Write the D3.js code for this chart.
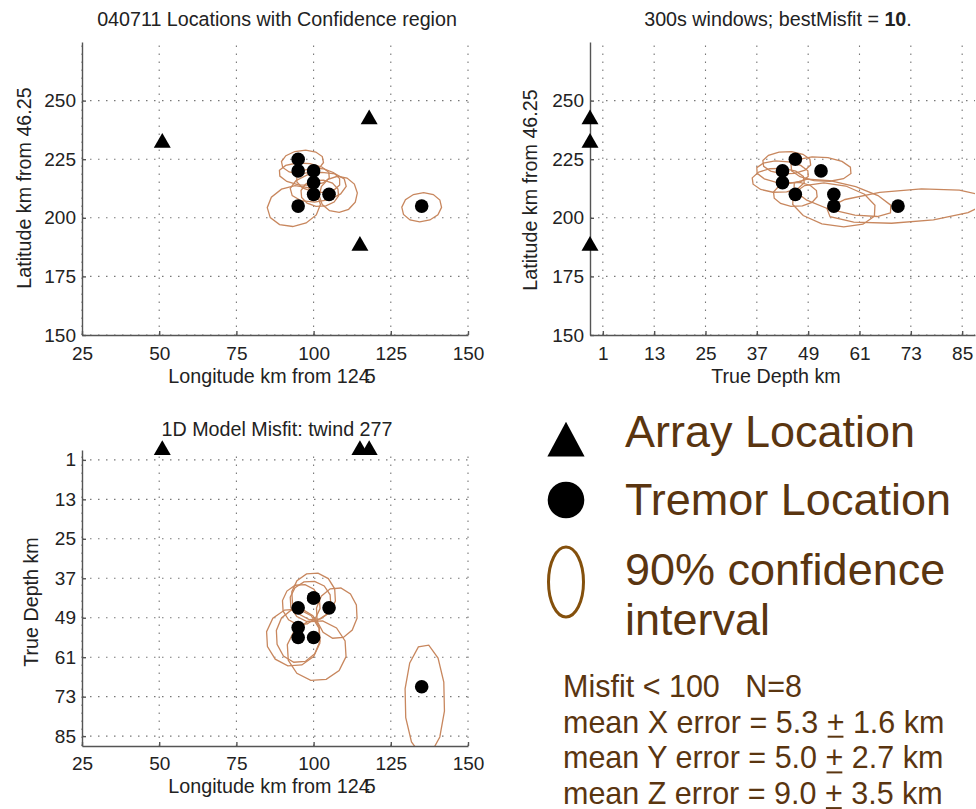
<!DOCTYPE html>
<html>
<head>
<meta charset="utf-8">
<script src="https://cdn.jsdelivr.net/npm/d3@7"></script>
<style>
body { margin: 0; background: #fff; }
svg text { font-family: "Liberation Sans", Arial, sans-serif; }
.axis path, .axis line { stroke: #555; stroke-width: 1.4; }
.axis text { font-size: 19px; fill: #222; }
.grid line { stroke: #777; stroke-width: 1.1; stroke-dasharray: 1.5,6.5; }
.conf { fill: none; stroke: #c8875e; stroke-width: 1.3; }
.lbl { font-size: 19.7px; fill: #222; }
.legend text { fill: #5a3510; }
</style>
</head>
<body>
<svg id="chart" width="976" height="809"></svg>
<script>
// tick labels
var lonTicks = [25, 50, 75, 100, 125, 150];
var latTicks = [150, 175, 200, 225, 250];
var depthTicks = [1, 13, 25, 37, 49, 61, 73, 85];

// array (station) locations
var arrayLon = [51, 118, 115];
var arrayLat = [232, 242, 188];
var arrayDepth = [-2, -2, -2];

// tremor locations (8 events)
var tremorLon = [95, 95, 100, 100, 100, 105, 95, 135];
var tremorLat = [225, 220, 220, 215, 210, 210, 205, 205];
var tremorDepth = [46, 52, 43, 43, 55, 46, 55, 70];

// 90% confidence regions: [centre x, centre y, radius x, radius y, tilt deg]
var confMap = [
    [96.4, 223.8, 6.9, 5, -5],
    [97, 218.6, 8.3, 4.8, 4],
    [101.5, 216, 7.2, 5.2, 6],
    [101.5, 213, 9.2, 6.2, -8],
    [102, 210.5, 6.2, 5.7, 0],
    [108, 210, 6.2, 7.7, -15],
    [93.6, 205, 8.7, 8.6, -12],
    [135, 204.5, 6.5, 6.2, -8]
];
var confDepth = [
    [44, 223.5, 5.7, 4.8, 0],
    [52, 220.8, 7.2, 5.2, 4],
    [43, 219.5, 6.2, 4.7, 5],
    [42, 216, 6.2, 5.2, 0],
    [57, 208.5, 12, 6.2, 14],
    [46, 210, 5.2, 5.2, 0],
    [55, 205.5, 10, 9, 10],
    [72, 205, 19, 7, -4]
];
var confSide = [
    [96, 45, 6.2, 6.2, 0],
    [95, 54.5, 7.2, 8.2, 0],
    [100, 42.5, 7.2, 7.2, 0],
    [99, 44, 6.7, 6.2, 0],
    [101, 59, 9.7, 9.2, 0],
    [107.5, 47.6, 6.7, 7.8, 0],
    [93.4, 55, 8.8, 8.8, 0],
    [136, 74, 6.5, 17, 0]
];

// legend / stats text
var legendLabels = ["Array Location", "Tremor Location", "90% confidence", "interval"];
var statAxes = ["X", "Y", "Z"];
var statMean = [5.3, 5.0, 9.0];
var statSd = [1.6, 2.7, 3.5];
var misfitMax = 100;

var svg = d3.select("#chart");
svg.append("rect").attr("width", 976).attr("height", 809).attr("fill", "#fff");

var panels = [
    {
        id: "p1", title: [["040711 Locations with Confidence region", "normal"]], titleX: 277, titleY: 26,
        xDomain: [25, 150], xRange: [82, 468], yDomain: [150, 275], yRange: [335, 42],
        xTicks: lonTicks, yTicks: latTicks, xPad: 12,
        xLabel: true, xLabelX: 272, xLabelY: 383,
        yLabel: "Latitude km from 46.25", yLabelX: 31, yLabelY: 188,
        px: tremorLon, py: tremorLat, ax: arrayLon, ay: arrayLat, conf: confMap
    },
    {
        id: "p2", title: [["300s windows; bestMisfit = ", "normal"], ["10", "bold"], [".", "normal"]], titleX: 778, titleY: 26,
        xDomain: [-2, 88], xRange: [590, 975], yDomain: [150, 275], yRange: [335, 42],
        xTicks: depthTicks, yTicks: latTicks, xPad: 12,
        xLabel: "True Depth km", xLabelX: 776, xLabelY: 383,
        yLabel: "Latitude km from 46.25", yLabelX: 537, yLabelY: 190,
        px: tremorDepth, py: tremorLat, ax: arrayDepth, ay: arrayLat, conf: confDepth
    },
    {
        id: "p3", title: [["1D Model Misfit: twind 277", "normal"]], titleX: 277, titleY: 436,
        xDomain: [25, 150], xRange: [82, 468], yDomain: [-2, 88], yRange: [450, 746],
        xTicks: lonTicks, yTicks: depthTicks, xPad: 11,
        xLabel: true, xLabelX: 272, xLabelY: 793,
        yLabel: "True Depth km", yLabelX: 38, yLabelY: 602,
        px: tremorLon, py: tremorDepth, ax: arrayLon, ay: arrayDepth, conf: confSide
    }
];

function confPath(c, x, y) {
    // polygon outline round the centre, in screen space
    var cx = x(c[0]), cy = y(c[1]);
    var rx = Math.abs(x(c[0] + c[2]) - cx), ry = Math.abs(y(c[1] + c[3]) - cy);
    var a = c[4] * Math.PI / 180;
    var pts = d3.range(12).map(function(i) {
        var t = i / 12 * 2 * Math.PI + 0.2;
        var ex = rx * Math.cos(t), ey = ry * Math.sin(t);
        return [cx + ex * Math.cos(a) - ey * Math.sin(a), cy + ex * Math.sin(a) + ey * Math.cos(a)];
    });
    return d3.line().curve(d3.curveLinearClosed)(pts);
}

panels.forEach(function(p) {
    var x = d3.scaleLinear().domain(p.xDomain).range(p.xRange);
    var y = d3.scaleLinear().domain(p.yDomain).range(p.yRange);
    var top = d3.min(p.yRange), bottom = d3.max(p.yRange);
    var g = svg.append("g");

    g.append("clipPath").attr("id", "clip-" + p.id)
        .append("rect")
        .attr("x", p.xRange[0]).attr("y", top)
        .attr("width", p.xRange[1] - p.xRange[0])
        .attr("height", bottom - top);

    // dotted grid
    var grid = g.append("g").attr("class", "grid");
    grid.selectAll(".gx").data(p.xTicks).join("line").attr("class", "gx")
        .attr("x1", function(d) { return x(d) }).attr("x2", function(d) { return x(d) })
        .attr("y1", bottom).attr("y2", top);
    grid.selectAll(".gy").data(p.yTicks).join("line").attr("class", "gy")
        .attr("y1", function(d) { return y(d) }).attr("y2", function(d) { return y(d) })
        .attr("x1", p.xRange[0]).attr("x2", p.xRange[1]);

    // confidence regions
    g.append("g").attr("clip-path", "url(#clip-" + p.id + ")")
        .selectAll("path").data(p.conf).join("path")
        .attr("class", "conf")
        .attr("d", function(d) { return confPath(d, x, y) });

    // axes
    g.append("g").attr("class", "axis")
        .attr("transform", "translate(0," + bottom + ")")
        .call(d3.axisBottom(x).tickValues(p.xTicks).tickSizeInner(-4).tickSizeOuter(0).tickPadding(p.xPad));
    g.append("g").attr("class", "axis")
        .attr("transform", "translate(" + p.xRange[0] + ",0)")
        .call(d3.axisLeft(y).tickValues(p.yTicks).tickSizeInner(-4).tickSizeOuter(0).tickPadding(6));

    // tremor dots
    g.selectAll(".dot").data(p.px).join("circle").attr("class", "dot")
        .attr("cx", function(d) { return x(d) })
        .attr("cy", function(d, i) { return y(p.py[i]) })
        .attr("r", 6.8).attr("fill", "#000");

    // array triangles
    g.selectAll(".tri").data(p.ax).join("path").attr("class", "tri")
        .attr("d", d3.symbol().type(d3.symbolTriangle).size(125))
        .attr("transform", function(d, i) { return "translate(" + x(d) + "," + y(p.ay[i]) + ")" })
        .attr("fill", "#000");

    // title
    var t = g.append("text").attr("class", "lbl").attr("x", p.titleX).attr("y", p.titleY).attr("text-anchor", "middle");
    p.title.forEach(function(s) { t.append("tspan").attr("font-weight", s[1]).text(s[0]) });

    // x label
    var xl = g.append("text").attr("class", "lbl").attr("x", p.xLabelX).attr("y", p.xLabelY).attr("text-anchor", "middle");
    if (p.xLabel === true) {
        xl.append("tspan").text("Longitude km from 124");
        xl.append("tspan").attr("dx", -5).text("5");
    } else {
        xl.text(p.xLabel);
    }

    // y label
    g.append("text").attr("class", "lbl")
        .attr("transform", "translate(" + p.yLabelX + "," + p.yLabelY + ") rotate(-90)")
        .attr("text-anchor", "middle")
        .text(p.yLabel);
});

// Legend -------------------------------------------------
var legend = svg.append("g").attr("class", "legend");
legend.append("path")
    .attr("d", d3.symbol().type(d3.symbolTriangle).size(600))
    .attr("transform", "translate(566,445) scale(1,1.08)")
    .attr("fill", "#000");
legend.append("circle").attr("cx", 566).attr("cy", 500).attr("r", 18.3).attr("fill", "#000");
legend.append("ellipse").attr("cx", 566).attr("cy", 582).attr("rx", 17.5).attr("ry", 35)
    .attr("fill", "none").attr("stroke", "#84500c").attr("stroke-width", 3);

var legendY = [447, 515, 585, 635];
legend.selectAll(".lt").data(legendLabels).join("text").attr("class", "lt")
    .attr("x", 625).attr("y", function(d, i) { return legendY[i] })
    .attr("font-size", 45)
    .text(function(d) { return d });

// stats
var stats = svg.append("g").attr("class", "legend").attr("font-size", 30.5);
stats.append("text").attr("x", 563).attr("y", 697).style("white-space", "pre")
    .text("Misfit < " + misfitMax + "   N=" + tremorLon.length);

statAxes.forEach(function(a, i) {
    var yy = 732.7 + i * 35.7;
    var txt = stats.append("text").attr("x", 563).attr("y", yy);
    var pre = "mean " + a + " error = " + statMean[i].toFixed(1) + " ";
    txt.append("tspan").text(pre);
    txt.append("tspan").text("+");
    txt.append("tspan").text(" " + statSd[i].toFixed(1) + " km");
    var ext = txt.node().getExtentOfChar(pre.length);
    stats.append("line")
        .attr("x1", ext.x + 1).attr("x2", ext.x + ext.width - 1)
        .attr("y1", yy + 4).attr("y2", yy + 4)
        .attr("stroke", "#5a3510").attr("stroke-width", 2);
});
</script>
</body>
</html>
